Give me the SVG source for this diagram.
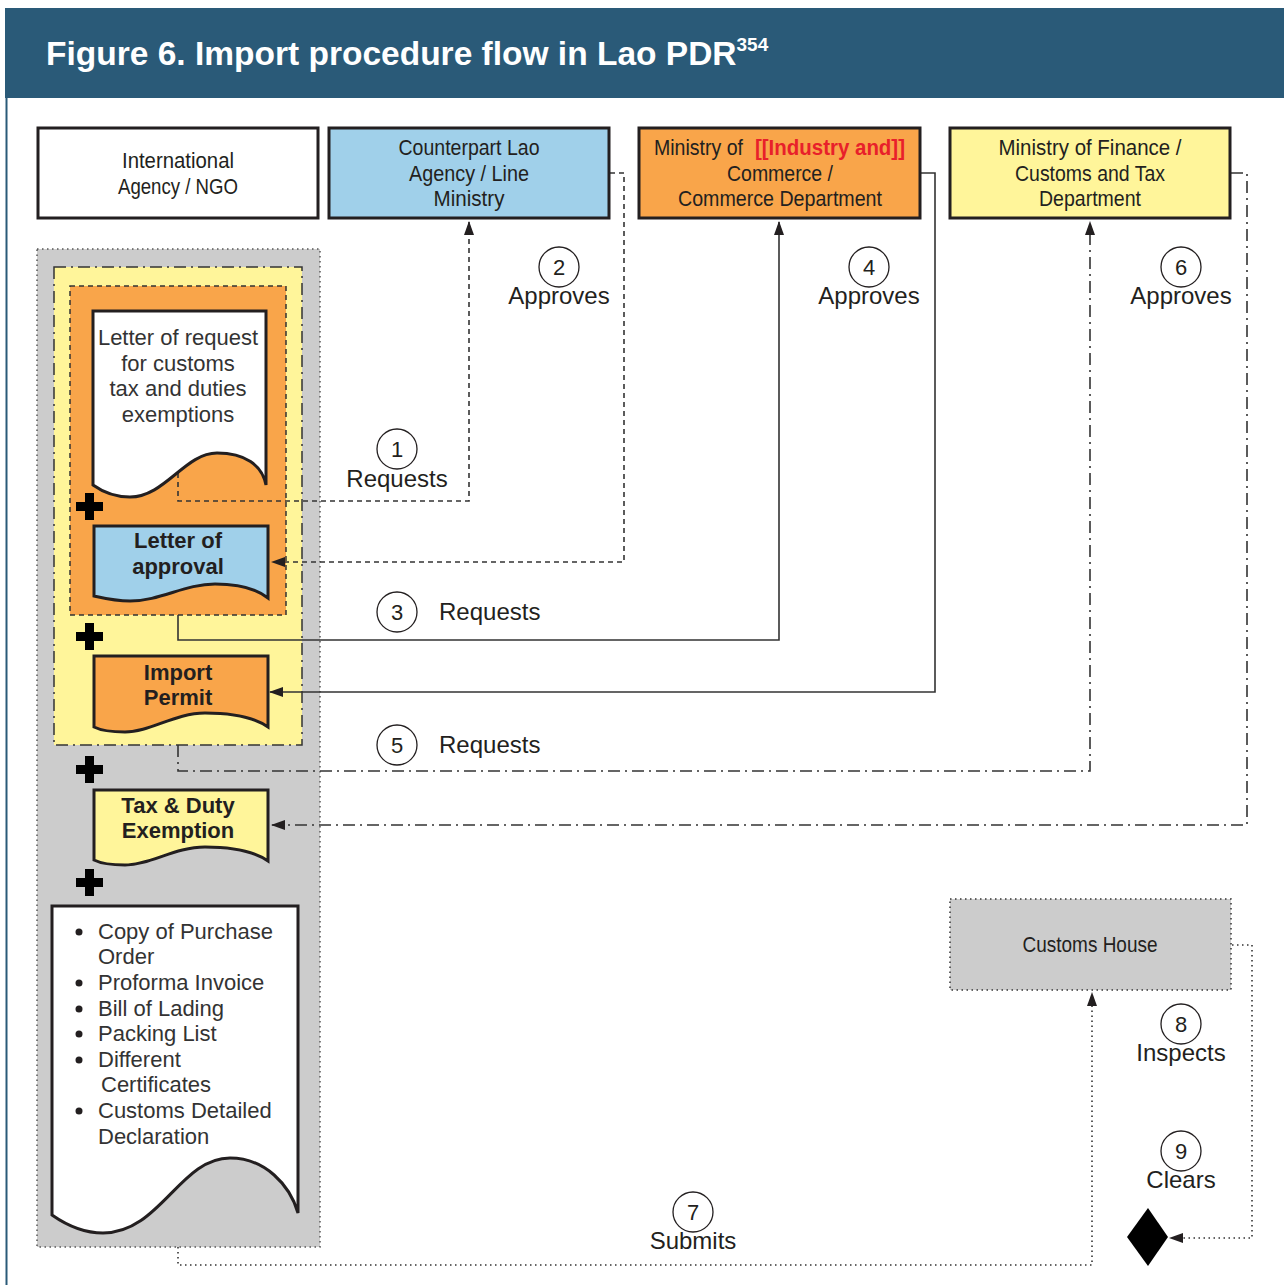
<svg xmlns="http://www.w3.org/2000/svg" width="1284" height="1285" viewBox="0 0 1284 1285">
<style>
.box{stroke:#231f20;stroke-width:3}
.bt{font-family:"Liberation Sans",Arial,sans-serif;font-size:22px;fill:#231f20;text-anchor:middle}
.doc{stroke:#231f20;stroke-width:3;stroke-linejoin:miter}
.dt{font-family:"Liberation Sans",Arial,sans-serif;font-size:22px;fill:#333}
.db{font-family:"Liberation Sans",Arial,sans-serif;font-size:22px;font-weight:bold;fill:#231f20;text-anchor:middle}
.lb{font-family:"Liberation Sans",Arial,sans-serif;font-size:24px;fill:#231f20}
.num{font-family:"Liberation Sans",Arial,sans-serif;font-size:22px;fill:#231f20;text-anchor:middle}
.circ{fill:#fff;stroke:#231f20;stroke-width:1.3}
.con{fill:none;stroke:#333;stroke-width:1.6}
.dash{stroke-dasharray:5,4}
.dashdot{stroke-dasharray:12,5,2,5}
.dot{stroke-dasharray:1.5,3.5}
</style>
<defs>
<marker id="arr" viewBox="0 0 14 10" refX="13" refY="5" markerWidth="14" markerHeight="10" markerUnits="userSpaceOnUse" orient="auto">
<path d="M0,0 L14,5 L0,10 z" fill="#231f20"/>
</marker>
<path id="plus" d="M-4.5,-13.5h9v9h9v9h-9v9h-9v-9h-9v-9h9z" fill="#000"/>
</defs>
<rect x="0" y="0" width="1284" height="1285" fill="#fff"/>
<g id="header">
<rect x="5" y="8" width="1279" height="90" fill="#2a5a78"/>
<line x1="6.5" y1="98" x2="6.5" y2="1285" stroke="#2a5a78" stroke-width="2"/>
<text x="46" y="65" font-family="Liberation Sans,Arial,sans-serif" font-size="33.5" font-weight="bold" fill="#fff">Figure 6. Import procedure flow in Lao PDR<tspan font-size="19" dy="-14">354</tspan></text>
</g>
<g id="container-docs">
<rect x="37" y="249" width="283" height="998" fill="#cccccc" stroke="#555" stroke-width="1.5" stroke-dasharray="1.5,3.5"/>
<rect x="54" y="267" width="248" height="478" fill="#fff59a" stroke="#333" stroke-width="1.5" stroke-dasharray="12,5,2,5"/>
<rect x="70" y="286" width="216" height="329" fill="#f9a54a" stroke="#333" stroke-width="1.5" stroke-dasharray="5,4"/>
</g>
<g id="connectors">
<path class="con dash" d="M178,473 V501 H469 V222" marker-end="url(#arr)"/>
<path class="con dash" d="M610,173 H624 V562 H272" marker-end="url(#arr)"/>
<path class="con" d="M178,615 V640 H779 V222" marker-end="url(#arr)"/>
<path class="con" d="M921,173 H935 V692 H270" marker-end="url(#arr)"/>
<path class="con dashdot" d="M178,745 V771 H1090 V222" marker-end="url(#arr)"/>
<path class="con dashdot" d="M1231,173 H1247 V825 H272" marker-end="url(#arr)"/>
<path class="con dot" d="M178,1247 V1265 H1092 V993" marker-end="url(#arr)"/>
<path class="con dot" d="M1232,945 H1252 V1238 H1170" marker-end="url(#arr)"/>
</g>
<g id="intl-agency">
<rect class="box" x="38" y="128" width="280" height="90" fill="#fff"/>
<text class="bt" x="178" y="168" textLength="112" lengthAdjust="spacingAndGlyphs">International</text>
<text class="bt" x="178" y="194" textLength="120" lengthAdjust="spacingAndGlyphs">Agency / NGO</text>
</g>
<g id="counterpart">
<rect class="box" x="329" y="128" width="280" height="90" fill="#a0d0ea"/>
<text class="bt" x="469" y="155" textLength="141" lengthAdjust="spacingAndGlyphs">Counterpart Lao</text>
<text class="bt" x="469" y="181" textLength="120" lengthAdjust="spacingAndGlyphs">Agency / Line</text>
<text class="bt" x="469" y="206" textLength="71" lengthAdjust="spacingAndGlyphs">Ministry</text>
</g>
<g id="moic">
<rect class="box" x="639" y="128" width="281" height="90" fill="#f9a54a"/>
<text class="bt" x="654" y="155" style="text-anchor:start" textLength="89" lengthAdjust="spacingAndGlyphs">Ministry of</text>
<text class="bt" x="755" y="155" style="text-anchor:start;fill:#e8202a;font-weight:bold" textLength="150" lengthAdjust="spacingAndGlyphs">[[Industry and]]</text>
<text class="bt" x="780" y="181" textLength="106" lengthAdjust="spacingAndGlyphs">Commerce /</text>
<text class="bt" x="780" y="206" textLength="204" lengthAdjust="spacingAndGlyphs">Commerce Department</text>
</g>
<g id="mof">
<rect class="box" x="950" y="128" width="280" height="90" fill="#fff59a"/>
<text class="bt" x="1090" y="155" textLength="183" lengthAdjust="spacingAndGlyphs">Ministry of Finance /</text>
<text class="bt" x="1090" y="181" textLength="150" lengthAdjust="spacingAndGlyphs">Customs and Tax</text>
<text class="bt" x="1090" y="206" textLength="102" lengthAdjust="spacingAndGlyphs">Department</text>
</g>
<g id="customs-house">
<rect x="950" y="899" width="281" height="91" fill="#cccccc" stroke="#333" stroke-width="1.5" stroke-dasharray="1.5,3.5"/>
<text class="bt" x="1090" y="952" textLength="135" lengthAdjust="spacingAndGlyphs">Customs House</text>
</g>
<g id="letter-request">
<path class="doc" fill="#fff" d="M93,311 H266 V485 C262,465 245,453 217,453 C185,453 165,497 130,497 C112,497 100,490 93,485 Z"/>
<text class="dt" text-anchor="middle" x="178" y="345">Letter of request</text>
<text class="dt" text-anchor="middle" x="178" y="371">for customs</text>
<text class="dt" text-anchor="middle" x="178" y="396">tax and duties</text>
<text class="dt" text-anchor="middle" x="178" y="422">exemptions</text>
</g>
<g id="letter-approval">
<path class="doc" fill="#a0d0ea" d="M94,526 H268 V598 C258,590 240,584 215,584 C185,584 160,601 130,601 C115,601 103,598 94,596 Z"/>
<text class="db" x="178" y="548">Letter of</text>
<text class="db" x="178" y="574">approval</text>
</g>
<g id="import-permit">
<path class="doc" fill="#f9a54a" d="M94,656 H268 V727 C255,718 235,713 205,713 C175,713 150,732 125,732 C110,732 100,730 94,727 Z"/>
<text class="db" x="178" y="680">Import</text>
<text class="db" x="178" y="705">Permit</text>
</g>
<g id="tax-exemption">
<path class="doc" fill="#fff59a" d="M94,790 H268 V861 C255,852 235,847 205,847 C175,847 150,865 125,865 C110,865 100,863 94,860 Z"/>
<text class="db" x="178" y="813">Tax &amp; Duty</text>
<text class="db" x="178" y="838">Exemption</text>
</g>
<g id="doc-list">
<path class="doc" fill="#fff" d="M52,906 H298 V1213 C290,1185 265,1158 230,1158 C180,1158 160,1233 103,1233 C80,1233 62,1222 52,1215 Z"/>
<g class="dt">
<circle cx="79" cy="932" r="3.5" fill="#231f20"/>
<text x="98" y="939">Copy of Purchase</text>
<text x="98" y="964">Order</text>
<circle cx="79" cy="983" r="3.5" fill="#231f20"/>
<text x="98" y="990">Proforma Invoice</text>
<circle cx="79" cy="1009" r="3.5" fill="#231f20"/>
<text x="98" y="1016">Bill of Lading</text>
<circle cx="79" cy="1034" r="3.5" fill="#231f20"/>
<text x="98" y="1041">Packing List</text>
<circle cx="79" cy="1060" r="3.5" fill="#231f20"/>
<text x="98" y="1067">Different</text>
<text x="101" y="1092">Certificates</text>
<circle cx="79" cy="1111" r="3.5" fill="#231f20"/>
<text x="98" y="1118">Customs Detailed</text>
<text x="98" y="1144">Declaration</text>
</g>
</g>
<g id="plus-signs">
<use href="#plus" x="89.5" y="506.5"/>
<use href="#plus" x="89.5" y="636.5"/>
<use href="#plus" x="89.5" y="769.5"/>
<use href="#plus" x="89.5" y="882.5"/>
</g>
<g id="clear-diamond">
<path d="M1148,1208 L1168,1237 L1148,1266 L1127,1237 Z" fill="#000"/>
</g>
<g id="step-labels">
<circle class="circ" cx="397" cy="449" r="20"/><text class="num" x="397" y="457">1</text>
<text class="lb" text-anchor="middle" x="397" y="487">Requests</text>
<circle class="circ" cx="559" cy="267" r="20"/><text class="num" x="559" y="275">2</text>
<text class="lb" text-anchor="middle" x="559" y="304">Approves</text>
<circle class="circ" cx="397" cy="612" r="20"/><text class="num" x="397" y="620">3</text>
<text class="lb" x="439" y="620">Requests</text>
<circle class="circ" cx="869" cy="267" r="20"/><text class="num" x="869" y="275">4</text>
<text class="lb" text-anchor="middle" x="869" y="304">Approves</text>
<circle class="circ" cx="397" cy="745" r="20"/><text class="num" x="397" y="753">5</text>
<text class="lb" x="439" y="753">Requests</text>
<circle class="circ" cx="1181" cy="267" r="20"/><text class="num" x="1181" y="275">6</text>
<text class="lb" text-anchor="middle" x="1181" y="304">Approves</text>
<circle class="circ" cx="693" cy="1212" r="20"/><text class="num" x="693" y="1220">7</text>
<text class="lb" text-anchor="middle" x="693" y="1249">Submits</text>
<circle class="circ" cx="1181" cy="1024" r="20"/><text class="num" x="1181" y="1032">8</text>
<text class="lb" text-anchor="middle" x="1181" y="1061">Inspects</text>
<circle class="circ" cx="1181" cy="1151" r="20"/><text class="num" x="1181" y="1159">9</text>
<text class="lb" text-anchor="middle" x="1181" y="1188">Clears</text>
</g>
</svg>
